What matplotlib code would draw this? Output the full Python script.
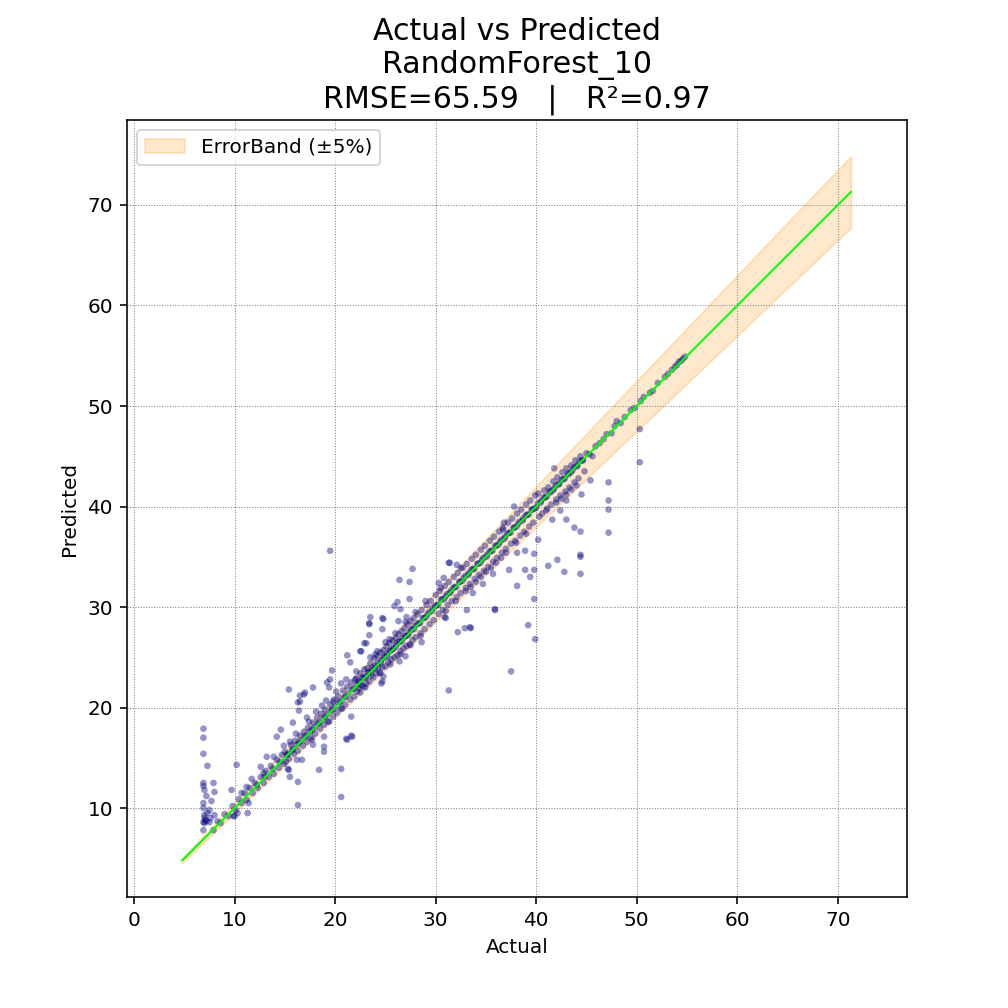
import matplotlib
matplotlib.use('Agg')
import matplotlib.pyplot as plt
import numpy as np

# points lying along the diagonal (actual, predicted)
line_actual = [
    8.3, 8.6, 9.0, 9.4, 9.8, 10.1, 10.4, 10.7, 11.0, 11.2, 11.5, 11.8, 12.0, 12.3, 12.6, 12.9,
    13.1, 13.4, 13.6, 13.9, 14.2, 14.4, 14.7, 14.9,
    15.0, 15.1, 15.3, 15.4, 15.6, 15.7, 15.9, 16.0, 16.2, 16.3, 16.5, 16.6, 16.8, 16.9, 17.0, 17.2,
    17.3, 17.5, 17.6, 17.8, 17.9, 18.0, 18.2, 18.3, 18.5, 18.6, 18.8, 18.9, 19.0, 19.2, 19.3, 19.5,
    19.6, 19.8, 19.9, 20.0, 20.2, 20.3, 20.5, 20.6, 20.8, 20.9, 21.0, 21.2, 21.3, 21.5, 21.6, 21.8,
    21.9, 22.0,
    16.1, 17.4, 18.1, 19.1, 20.1, 21.1, 15.5, 17.7, 19.4, 20.7, 22.1, 18.7,
    22.1, 22.2, 22.3, 22.4, 22.5, 22.6, 22.7, 22.8, 22.9, 23.0, 23.1, 23.2, 23.3, 23.4, 23.5, 23.6,
    23.7, 23.8, 23.9, 24.0, 24.1, 24.2, 24.3, 24.4, 24.5, 24.6, 24.7, 24.8, 24.9, 25.0, 25.1, 25.2,
    25.3, 25.4, 25.5, 25.6, 25.7, 25.8, 25.9, 26.0, 26.1, 26.2, 26.3, 26.4, 26.5, 26.6, 26.7, 26.8,
    26.9, 27.0, 27.1, 27.2, 27.3, 27.4, 27.5, 27.6, 27.7, 27.8, 27.9, 28.0, 28.2, 28.3, 28.5, 28.6,
    28.8, 28.9, 29.1, 29.2, 29.4, 29.5, 29.7, 29.8,
    23.5, 24.2, 25.0, 26.0, 27.0, 28.0, 23.0, 24.5, 26.5, 28.5, 29.0, 22.5, 25.5, 27.5, 24.0,
    30.0, 30.1, 30.3, 30.4, 30.6, 30.7, 30.9, 31.0, 31.2, 31.3, 31.5, 31.6, 31.8, 31.9, 32.1, 32.2,
    32.4, 32.5, 32.7, 32.8, 33.0, 33.1, 33.3, 33.4, 33.6, 33.7, 33.9, 34.0, 34.2, 34.3, 34.5, 34.6,
    34.8, 34.9, 35.1, 35.2, 35.4, 35.5, 35.7, 35.8, 36.0, 36.1, 36.3, 36.4, 36.6, 36.7, 36.9, 37.0,
    37.2, 37.3, 37.5, 37.6, 37.8, 37.9, 38.1, 38.2, 38.4, 38.5, 38.7, 38.8, 39.0, 39.1, 39.3, 39.4,
    39.6, 39.7, 39.9,
    31.0, 32.0, 33.0, 34.0, 35.0, 36.0, 37.0, 38.0, 39.0, 33.5, 35.5, 36.5, 34.5, 30.5, 32.5, 36.8,
    40.0, 40.2, 40.3, 40.5, 40.6, 40.8, 40.9, 41.1, 41.2, 41.4, 41.5, 41.7, 41.8, 42.0, 42.1, 42.3,
    42.4, 42.6, 42.7, 42.9, 43.0, 43.2, 43.3, 43.5, 43.6, 43.8, 43.9, 44.1, 44.2, 44.4, 44.6, 44.8,
    45.0, 45.3, 45.6, 45.9,
    41.0, 42.0, 43.0, 44.0, 42.5, 43.5,
    46.3, 46.7, 47.0, 47.5, 47.8, 48.0, 48.4, 48.8, 49.4, 49.8, 50.4, 50.7, 51.3, 51.6, 52.1, 52.8,
    53.1, 53.5, 53.8, 54.0, 54.2, 54.4, 54.6, 54.8,
]
line_pred = [
    8.7, 8.5, 9.4, 9.2, 10.2, 9.8, 10.9, 10.5, 11.5, 10.8, 12.0, 11.5, 12.5, 12.0, 13.1, 12.5,
    13.7, 13.1, 14.2, 13.4, 14.8, 14.0, 15.3, 14.4,
    15.6, 14.6, 15.4, 14.9, 16.3, 15.7, 15.4, 16.7, 16.3, 15.7, 17.2, 16.7, 16.2, 17.6, 17.1, 16.6,
    18.0, 17.6, 17.0, 18.5, 18.0, 17.4, 19.0, 18.4, 17.9, 19.4, 18.9, 18.3, 19.8, 19.3, 18.6, 20.3,
    19.7, 19.1, 20.8, 20.1, 19.5, 21.1, 20.6, 19.9, 21.7, 21.0, 20.3, 22.1, 21.4, 20.8, 22.5, 21.9,
    21.1, 22.8,
    17.4, 18.6, 19.6, 20.7, 21.6, 22.8, 16.6, 16.8, 18.6, 19.9, 23.6, 20.2,
    22.9, 21.6, 22.6, 21.9, 23.4, 22.2, 23.0, 22.1, 23.8, 23.1, 22.4, 23.9, 23.5, 22.6, 24.4, 23.2,
    24.0, 23.0, 24.9, 24.2, 23.4, 25.1, 24.0, 23.5, 25.5, 24.7, 24.0, 25.7, 25.1, 24.1, 26.1, 25.4,
    24.5, 26.4, 25.7, 24.8, 26.7, 25.9, 25.0, 26.9, 26.3, 25.2, 27.3, 26.6, 25.6, 27.6, 26.9, 25.9,
    27.9, 27.1, 26.1, 28.3, 27.4, 26.3, 28.6, 27.8, 26.7, 28.9, 28.1, 27.0, 29.3, 28.4, 27.4, 29.7,
    28.9, 27.8, 30.2, 29.3, 28.3, 30.6, 29.9, 28.7,
    25.0, 25.6, 26.5, 27.4, 28.5, 29.5, 22.0, 23.4, 25.3, 27.1, 30.6, 21.5, 24.3, 26.2, 25.3,
    31.2, 30.2, 29.3, 31.6, 30.8, 29.7, 32.1, 31.1, 30.2, 32.5, 31.6, 30.6, 33.0, 32.0, 31.0, 33.4,
    32.5, 31.4, 33.9, 32.9, 31.9, 34.3, 33.4, 32.3, 34.8, 33.8, 32.8, 35.2, 34.3, 33.2, 35.7, 34.7,
    33.6, 36.1, 35.2, 34.0, 36.6, 35.6, 34.5, 37.0, 36.1, 34.9, 37.5, 36.5, 35.4, 37.9, 37.0, 35.8,
    38.4, 37.4, 36.3, 38.8, 37.9, 36.6, 39.3, 38.3, 37.1, 39.7, 38.8, 37.5, 40.2, 39.2, 38.0, 40.6,
    39.7, 38.4, 41.1,
    29.6, 30.6, 31.6, 32.5, 33.5, 34.4, 35.4, 36.4, 37.3, 32.0, 33.9, 34.9, 33.0, 31.9, 33.9, 38.4,
    39.9, 41.3, 39.0, 40.6, 39.3, 41.6, 40.9, 39.8, 41.9, 41.4, 40.2, 42.5, 41.8, 40.7, 42.9, 42.3,
    41.1, 43.4, 42.7, 41.5, 43.8, 43.2, 41.9, 44.1, 43.6, 42.4, 44.6, 44.1, 42.8, 45.0, 44.6, 43.5,
    45.3, 45.2, 45.0, 46.0,
    39.6, 40.4, 41.2, 42.1, 40.8, 41.7,
    46.3, 46.7, 47.2, 47.3, 48.0, 48.5, 48.3, 48.9, 49.6, 49.8, 50.5, 50.9, 51.3, 51.5, 52.3, 52.9,
    53.2, 53.6, 53.9, 54.1, 54.4, 54.5, 54.7, 54.9,
]

# tight core right on the diagonal
core_actual = [
    22.15, 22.45, 22.75, 23.05, 23.35, 23.65, 23.95, 24.25, 24.55, 24.85, 25.15, 25.45, 25.75,
    26.05, 26.35, 26.65, 26.95, 27.25, 27.55, 27.85, 28.15, 28.45, 28.75, 29.05, 29.35, 29.65,
    29.95, 30.25, 30.55, 30.85, 31.15, 31.45, 31.75, 32.05, 32.35, 32.65, 32.95, 33.25, 33.55,
    33.85, 34.15, 34.45, 34.75, 35.05, 35.35, 35.65, 35.95, 36.25, 36.55, 36.85, 37.15, 37.45,
    37.75, 38.05, 38.35, 38.65, 38.95, 39.25, 39.55, 39.85, 40.15, 40.45, 40.75, 41.05, 41.35,
    41.65, 41.95, 42.25, 42.55, 42.85, 43.15, 43.45, 43.75, 44.05, 44.35, 44.65,
    14.5, 15.2, 15.8, 16.4, 17.1, 17.7, 18.4, 19.0, 19.7, 20.4, 21.0, 21.7, 12.2, 13.0, 13.8,
]
core_pred = [
    22.3, 22.5, 22.9, 23.0, 23.5, 23.7, 23.9, 24.4, 24.5, 25.0, 25.1, 25.6, 25.8,
    26.1, 26.5, 26.6, 27.1, 27.2, 27.7, 27.8, 28.3, 28.4, 28.9, 29.0, 29.5, 29.6,
    30.1, 30.2, 30.7, 30.8, 31.3, 31.4, 31.9, 32.0, 32.5, 32.6, 33.1, 33.2, 33.7,
    33.8, 34.3, 34.4, 34.9, 35.0, 35.5, 35.6, 36.1, 36.2, 36.7, 36.8, 37.3, 37.4,
    37.9, 38.0, 38.5, 38.6, 39.1, 39.2, 39.7, 39.8, 40.3, 40.4, 40.9, 41.0, 41.5,
    41.6, 42.1, 42.2, 42.7, 42.8, 43.3, 43.4, 43.9, 44.0, 44.5, 44.6,
    14.6, 15.3, 15.9, 16.5, 17.2, 17.8, 18.5, 19.1, 19.8, 20.5, 21.1, 21.8, 12.3, 13.1, 13.9,
]

# points off the diagonal (actual, predicted)
off_actual = [
    6.9, 6.9, 6.9, 7.3, 6.9, 6.9, 7.0, 8.0, 6.9, 6.9, 7.0, 6.9, 7.0, 7.1, 7.2, 7.0, 6.9, 7.9, 7.7,
    8.0, 7.5, 7.9, 7.3, 7.5, 7.2, 7.6,
    10.2, 9.7, 10.0, 11.3, 10.7, 11.2, 11.7, 12.9, 13.2, 13.9, 12.6, 11.4, 10.3, 9.9,
    16.3, 16.3, 18.4, 15.4, 16.5, 16.9, 17.8, 17.0, 16.3, 16.4, 15.8, 14.6, 14.2, 14.9, 15.4, 20.6,
    20.6, 15.5, 21.2, 21.6, 21.6, 18.9, 18.9, 18.9, 17.8, 16.7, 16.2, 15.3, 17.2, 19.7, 19.5, 19.8,
    19.5, 20.6, 21.2, 21.5, 22.5, 16.5, 19.2, 19.4,
    27.7, 26.4, 27.4, 26.2, 27.4, 25.9, 26.5, 24.8, 23.5, 23.4, 24.7, 23.4, 22.9, 23.1, 23.4, 24.7,
    25.4, 26.3, 27.1, 22.6,
    24.6, 24.7, 27.0, 24.8, 26.4, 28.6, 31.0, 21.7, 21.1,
    31.3, 32.1, 30.8, 30.3, 31.4, 36.7, 37.8,
    31.3, 32.2, 33.4, 32.9, 33.5, 35.9, 35.9, 33.1, 37.5, 38.1, 37.3, 30.9, 33.7, 34.7, 35.7, 40.2,
    39.8, 39.8, 39.4, 38.9, 39.8, 39.2, 39.9, 38.1, 38.9,
    50.3, 50.3, 47.2, 47.2, 47.2, 47.2, 45.4, 44.5, 43.0, 42.4, 43.0, 41.6, 43.8, 44.4, 44.4, 44.4,
    42.8, 42.1, 41.2, 41.8, 44.4,
]
off_pred = [
    17.9, 17.0, 15.4, 14.2, 12.5, 12.2, 11.8, 11.6, 10.5, 10.0, 9.3, 8.6, 9.0, 8.8, 8.7, 8.5, 7.8,
    12.5, 10.7, 9.3, 8.6, 7.8, 9.5, 9.8, 11.2, 9.0,
    14.3, 11.8, 9.2, 9.5, 11.5, 12.1, 12.9, 13.5, 15.1, 15.1, 14.1, 10.5, 9.5, 9.2,
    10.3, 12.6, 13.8, 21.8, 21.2, 21.3, 22.0, 21.5, 20.5, 19.7, 18.5, 17.8, 17.1, 16.2, 13.8, 11.1,
    13.9, 13.1, 16.8, 17.2, 19.1, 16.1, 15.6, 17.1, 16.3, 14.8, 14.8, 13.9, 19.0, 23.7, 22.8, 20.6,
    35.6, 22.4, 25.2, 24.5, 25.6, 20.6, 22.5, 22.0,
    33.8, 32.7, 32.5, 30.5, 30.8, 30.1, 29.8, 28.8, 29.0, 28.4, 27.8, 27.2, 26.4, 26.4, 28.3, 28.9,
    26.8, 28.6, 29.0, 25.6,
    22.4, 22.6, 25.1, 23.1, 24.6, 26.5, 28.9, 17.1, 16.9,
    34.4, 34.2, 32.9, 32.4, 34.4, 37.7, 40.0,
    21.7, 27.5, 28.0, 27.9, 27.9, 29.8, 29.7, 29.7, 23.6, 32.1, 33.7, 29.0, 31.4, 32.3, 33.3, 36.7,
    35.3, 33.7, 33.0, 33.7, 30.8, 28.2, 26.8, 35.4, 35.6,
    47.7, 44.4, 42.4, 40.6, 39.7, 37.4, 42.6, 41.2, 40.6, 39.6, 38.7, 38.7, 37.9, 37.5, 35.0, 33.3,
    33.5, 34.7, 34.1, 43.8, 35.2,
]

# range of the ideal line and the band
line_range = [4.8, 71.3]
band_pct = 0.05

actual = np.array(line_actual + core_actual + off_actual)
predicted = np.array(line_pred + core_pred + off_pred)
ideal = np.array(line_range)

fig = plt.figure(figsize=(7, 7), dpi=144)
ax = fig.add_axes([0.126, 0.110, 0.774, 0.771])

ax.fill_between(ideal, ideal * (1 - band_pct), ideal * (1 + band_pct),
                color='darkorange', alpha=0.2, label='ErrorBand (±5%)', zorder=1)
ax.scatter(actual, predicted, s=11, color='navy', alpha=0.42, edgecolors='none', zorder=2)
ax.plot(ideal, ideal, color='lime', lw=1, zorder=3)

ax.set_xlim(-0.7, 76.9)
ax.set_ylim(1.14, 78.46)
ax.set_xticks(range(0, 71, 10))
ax.set_yticks(range(10, 71, 10))

ax.grid(True, linestyle=':', color='gray', linewidth=0.5)
ax.set_xlabel('Actual')
ax.set_ylabel('Predicted')
ax.set_title('Actual vs Predicted\nRandomForest_10\nRMSE=65.59   |   R²=0.97', fontsize=15)
ax.legend(loc='upper left')

plt.savefig('out.png', dpi=144)
